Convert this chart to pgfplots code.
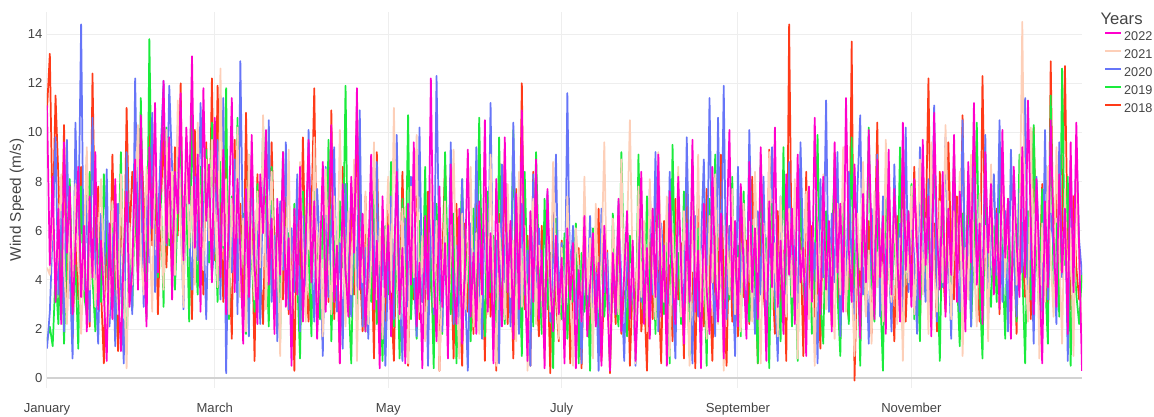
\documentclass[border=0pt]{standalone}
\usepackage{fontspec}
\setmainfont{Liberation Sans}
\usepackage{pgfplots}
\usepackage{pgfplotstable}
\pgfplotsset{compat=1.18}
\definecolor{cA}{HTML}{FF00CC}
\definecolor{cB}{HTML}{FDCFB8}
\definecolor{cC}{HTML}{6675F8}
\definecolor{cD}{HTML}{1AEB3C}
\definecolor{cE}{HTML}{FF3A18}
\definecolor{gridc}{HTML}{EEEEEE}
\definecolor{zeroc}{HTML}{D2D2D2}
\definecolor{tickc}{HTML}{444444}
% 2022
\pgfplotstableread[row sep=\\]{y\\
11.1\\ 4.6\\ 8.2\\ 3.1\\ 6.9\\ 2.2\\ 9.6\\ 5.1\\ 7.8\\ 2.6\\ 5.4\\ 8.6\\ 3.3\\ 6.2\\ 1.9\\ 7.4\\ 4.1\\ 9.2\\ 2.8\\ 5.6\\ 3.4\\ 0.7\\ 6.3\\ 2.4\\ 8.1\\ 3.7\\ 1.1\\ 5.2\\ 7.6\\ 2.9\\ 4.4\\
8.9\\ 3.6\\ 10.7\\ 5.8\\ 2.1\\ 9.4\\ 6.1\\ 11.2\\ 4.3\\ 7.9\\ 12.1\\ 5.5\\ 9.8\\ 3.2\\ 8.4\\ 6.7\\ 11.6\\ 4.8\\ 10.2\\ 7.1\\ 13.1\\ 5.3\\ 9.1\\ 2.7\\ 11.8\\ 6.4\\ 8.7\\ 3.9\\
10.6\\ 7.2\\ 4.1\\ 9.3\\ 2.6\\ 6.8\\ 11.4\\ 3.5\\ 8.1\\ 5.2\\ 1.4\\ 7.7\\ 3.3\\ 9.9\\ 4.6\\ 2.2\\ 8.3\\ 5.9\\ 10.1\\ 3.8\\ 6.5\\ 1.8\\ 7.3\\ 4.2\\ 9.2\\ 2.9\\ 5.7\\ 0.5\\ 6.9\\ 3.4\\ 8.6\\
2.3\\ 5.8\\ 9.7\\ 3.9\\ 7.2\\ 1.6\\ 4.8\\ 8.8\\ 2.7\\ 6.1\\ 10.3\\ 3.1\\ 5.4\\ 0.6\\ 7.9\\ 4.4\\ 2.5\\ 8.2\\ 5.1\\ 11.8\\ 3.6\\ 6.7\\ 1.9\\ 4.9\\ 9.1\\ 2.8\\ 5.6\\ 0.4\\ 7.4\\ 3.3\\
6.2\\ 1.7\\ 4.5\\ 8.4\\ 2.6\\ 5.3\\ 0.6\\ 7.1\\ 3.8\\ 9.6\\ 2.1\\ 4.7\\ 0.4\\ 6.6\\ 3.2\\ 12.2\\ 4.1\\ 1.5\\ 7.8\\ 2.9\\ 5.5\\ 0.8\\ 8.7\\ 3.6\\ 2.2\\ 6.9\\ 1.4\\ 4.6\\ 9.3\\ 2.5\\ 5.1\\
1.8\\ 7.2\\ 3.4\\ 10.5\\ 2.7\\ 5.9\\ 0.6\\ 8.1\\ 4.3\\ 2.1\\ 9.8\\ 3.5\\ 6.4\\ 1.6\\ 7.5\\ 2.8\\ 10.9\\ 4.2\\ 0.7\\ 6.8\\ 3.1\\ 8.9\\ 2.4\\ 5.2\\ 0.4\\ 7.7\\ 3.9\\ 1.9\\ 5.8\\ 2.6\\
4.9\\ 0.6\\ 6.1\\ 3.2\\ 5.5\\ 0.4\\ 4.4\\ 2.3\\ 6.6\\ 1.7\\ 3.8\\ 5.9\\ 2.1\\ 4.7\\ 0.5\\ 6.2\\ 3.4\\ 0.3\\ 5.1\\ 2.6\\ 7.3\\ 1.9\\ 4.2\\ 6.8\\ 2.4\\ 5.6\\ 0.7\\ 3.7\\ 8.4\\ 2.2\\ 5.3\\
1.6\\ 6.9\\ 3.3\\ 9.1\\ 2.5\\ 5.4\\ 0.5\\ 7.6\\ 3.9\\ 2.2\\ 8.2\\ 4.6\\ 1.4\\ 6.3\\ 3.1\\ 9.7\\ 2.7\\ 5.2\\ 0.4\\ 7.1\\ 3.6\\ 1.8\\ 8.6\\ 4.1\\ 2.3\\ 6.7\\ 0.8\\ 5.8\\ 10.1\\ 3.2\\ 6.4\\
2.1\\ 7.9\\ 4.4\\ 1.6\\ 8.8\\ 3.5\\ 6.1\\ 2.4\\ 9.4\\ 4.8\\ 0.7\\ 7.2\\ 3.7\\ 10.2\\ 2.9\\ 5.6\\ 1.8\\ 8.3\\ 4.2\\ 6.9\\ 2.2\\ 9.1\\ 3.9\\ 5.3\\ 0.9\\ 7.8\\ 3.1\\ 10.6\\ 4.6\\ 2.6\\
8.2\\ 3.6\\ 6.4\\ 1.9\\ 9.6\\ 4.3\\ 7.1\\ 2.7\\ 11.4\\ 5.2\\ 3.1\\ 8.7\\ 4.8\\ 1.6\\ 7.5\\ 3.9\\ 10.1\\ 5.6\\ 2.4\\ 8.9\\ 4.1\\ 6.6\\ 1.8\\ 9.3\\ 3.4\\ 7.7\\ 5.1\\ 2.3\\ 10.4\\ 4.4\\ 6.8\\
2.9\\ 8.1\\ 5.3\\ 3.2\\ 9.7\\ 4.6\\ 7.4\\ 1.7\\ 10.8\\ 5.9\\ 3.6\\ 8.4\\ 2.5\\ 6.9\\ 4.2\\ 9.9\\ 3.1\\ 7.6\\ 5.4\\ 1.9\\ 8.8\\ 4.7\\ 11.2\\ 3.8\\ 6.3\\ 2.2\\ 9.2\\ 5.1\\ 7.9\\ 3.4\\
6.7\\ 2.8\\ 10.1\\ 4.9\\ 7.3\\ 1.6\\ 8.6\\ 5.5\\ 3.3\\ 9.4\\ 4.1\\ 11.3\\ 6.2\\ 2.6\\ 8.1\\ 4.5\\ 0.6\\ 7.2\\ 3.7\\ 10.5\\ 5.8\\ 2.9\\ 8.3\\ 4.3\\ 6.9\\ 1.8\\ 9.6\\ 3.5\\ 10.4\\ 5.2\\ 0.3\\
}\dataA
% 2021
\pgfplotstableread[row sep=\\]{y\\
4.5\\ 4.2\\ 6.8\\ 3.9\\ 5.1\\ 8.3\\ 4.6\\ 2.2\\ 6.4\\ 3.5\\ 7.9\\ 5.2\\ 1.8\\ 4.7\\ 9.4\\ 3.6\\ 6.1\\ 2.9\\ 5.8\\ 8.1\\ 4.3\\ 1.4\\ 3.2\\ 7.2\\ 5.5\\ 2.6\\ 8.3\\ 4.1\\ 0.4\\ 6.3\\ 3.8\\
7.4\\ 10.3\\ 5.1\\ 3.4\\ 8.6\\ 6.2\\ 2.7\\ 9.8\\ 4.9\\ 7.1\\ 3.6\\ 10.1\\ 5.7\\ 8.4\\ 4.2\\ 11.3\\ 6.5\\ 2.9\\ 9.2\\ 5.3\\ 7.8\\ 3.8\\ 10.4\\ 6.1\\ 4.4\\ 8.9\\ 5.6\\ 9.7\\
6.8\\ 3.7\\ 12.6\\ 5.4\\ 8.1\\ 2.6\\ 7.3\\ 4.8\\ 10.2\\ 3.3\\ 6.5\\ 1.9\\ 9.1\\ 5.1\\ 3.2\\ 7.6\\ 4.5\\ 10.7\\ 2.8\\ 6.2\\ 8.4\\ 3.9\\ 5.7\\ 0.9\\ 7.9\\ 4.3\\ 9.3\\ 2.4\\ 6.6\\ 3.6\\ 8.8\\
5.2\\ 2.3\\ 7.1\\ 4.4\\ 9.8\\ 3.1\\ 6.3\\ 1.7\\ 8.5\\ 4.9\\ 2.6\\ 7.4\\ 3.8\\ 10.1\\ 5.5\\ 2.1\\ 6.8\\ 3.4\\ 8.9\\ 0.7\\ 5.7\\ 3.9\\ 7.6\\ 2.2\\ 4.8\\ 9.6\\ 3.2\\ 6.1\\ 1.6\\ 5.3\\
8.2\\ 3.5\\ 11.0\\ 4.7\\ 2.4\\ 6.9\\ 3.3\\ 0.6\\ 7.8\\ 4.1\\ 9.9\\ 2.7\\ 5.8\\ 1.5\\ 4.3\\ 8.1\\ 2.9\\ 6.4\\ 0.3\\ 3.8\\ 7.2\\ 2.3\\ 5.1\\ 9.3\\ 3.6\\ 0.8\\ 6.7\\ 2.8\\ 4.9\\ 8.6\\ 2.1\\
5.9\\ 1.8\\ 4.4\\ 7.7\\ 2.6\\ 9.1\\ 3.7\\ 0.5\\ 6.3\\ 4.2\\ 2.4\\ 7.9\\ 3.3\\ 5.6\\ 1.5\\ 8.4\\ 2.9\\ 6.2\\ 0.3\\ 4.6\\ 7.3\\ 2.2\\ 5.4\\ 3.5\\ 0.7\\ 6.9\\ 2.7\\ 8.8\\ 4.1\\ 1.6\\
5.3\\ 2.5\\ 7.4\\ 3.8\\ 0.5\\ 6.1\\ 4.4\\ 2.3\\ 8.2\\ 3.4\\ 5.7\\ 0.8\\ 7.1\\ 2.9\\ 4.8\\ 9.6\\ 3.1\\ 1.7\\ 6.5\\ 4.2\\ 2.6\\ 8.9\\ 3.6\\ 5.9\\ 10.5\\ 4.3\\ 0.6\\ 7.8\\ 3.3\\ 6.4\\ 1.9\\
8.1\\ 4.6\\ 2.4\\ 9.2\\ 5.3\\ 3.1\\ 7.4\\ 0.9\\ 5.9\\ 3.7\\ 8.6\\ 2.5\\ 6.8\\ 4.1\\ 0.5\\ 7.2\\ 3.5\\ 9.1\\ 2.7\\ 5.4\\ 1.6\\ 6.6\\ 3.9\\ 8.3\\ 2.2\\ 5.1\\ 0.3\\ 6.2\\ 3.4\\ 7.7\\ 2.6\\
4.9\\ 1.9\\ 7.1\\ 3.6\\ 5.8\\ 2.3\\ 8.4\\ 4.5\\ 0.6\\ 6.3\\ 3.2\\ 9.2\\ 2.8\\ 5.5\\ 1.7\\ 7.4\\ 4.1\\ 2.5\\ 6.9\\ 3.3\\ 8.1\\ 0.8\\ 5.2\\ 3.9\\ 7.6\\ 2.4\\ 4.7\\ 0.5\\ 6.4\\ 3.5\\
8.3\\ 2.8\\ 5.9\\ 4.2\\ 1.6\\ 7.1\\ 3.4\\ 9.4\\ 2.7\\ 5.6\\ 3.8\\ 0.9\\ 6.7\\ 4.4\\ 8.8\\ 2.5\\ 5.2\\ 1.4\\ 7.6\\ 3.7\\ 6.1\\ 2.3\\ 9.7\\ 4.6\\ 3.1\\ 7.3\\ 2.2\\ 5.7\\ 0.7\\ 6.4\\ 3.9\\
7.8\\ 2.6\\ 5.1\\ 8.9\\ 3.4\\ 6.5\\ 1.8\\ 9.6\\ 4.3\\ 2.7\\ 7.2\\ 3.9\\ 10.3\\ 5.6\\ 2.4\\ 6.8\\ 4.1\\ 8.4\\ 0.9\\ 5.3\\ 3.2\\ 9.1\\ 4.7\\ 2.1\\ 7.5\\ 3.6\\ 6.2\\ 1.5\\ 8.7\\ 4.4\\
5.7\\ 2.9\\ 9.3\\ 4.1\\ 6.8\\ 1.7\\ 7.9\\ 3.8\\ 5.4\\ 14.5\\ 4.6\\ 2.3\\ 10.2\\ 3.5\\ 7.1\\ 0.8\\ 6.3\\ 3.1\\ 8.6\\ 4.9\\ 2.5\\ 9.4\\ 5.2\\ 1.4\\ 7.7\\ 3.6\\ 6.1\\ 0.9\\ 8.3\\ 4.4\\ 1.9\\
}\dataB
% 2020
\pgfplotstableread[row sep=\\]{y\\
1.2\\ 2.7\\ 6.1\\ 9.8\\ 3.4\\ 7.2\\ 1.9\\ 9.7\\ 4.3\\ 0.8\\ 10.4\\ 5.8\\ 14.4\\ 3.6\\ 7.4\\ 2.3\\ 10.6\\ 4.1\\ 1.4\\ 6.7\\ 3.2\\ 8.5\\ 2.1\\ 5.9\\ 1.3\\ 7.1\\ 3.8\\ 0.6\\ 9.2\\ 4.5\\ 2.6\\
12.2\\ 5.3\\ 8.4\\ 2.9\\ 7.6\\ 4.7\\ 10.8\\ 3.5\\ 6.2\\ 9.3\\ 12.1\\ 5.4\\ 11.9\\ 8.6\\ 4.2\\ 10.3\\ 6.7\\ 2.8\\ 9.1\\ 5.9\\ 3.6\\ 8.2\\ 4.8\\ 11.2\\ 6.3\\ 2.4\\ 7.8\\ 4.1\\
5.6\\ 9.7\\ 3.2\\ 11.4\\ 0.2\\ 6.8\\ 4.3\\ 8.9\\ 2.6\\ 12.9\\ 5.1\\ 7.3\\ 1.7\\ 9.2\\ 3.9\\ 6.4\\ 2.2\\ 8.1\\ 4.6\\ 10.5\\ 3.1\\ 5.8\\ 1.5\\ 7.2\\ 4.4\\ 9.6\\ 2.8\\ 6.1\\ 3.5\\ 8.3\\ 1.9\\
6.6\\ 3.7\\ 10.1\\ 4.9\\ 2.3\\ 7.7\\ 5.2\\ 0.9\\ 8.6\\ 3.3\\ 6.2\\ 9.4\\ 2.7\\ 5.5\\ 1.2\\ 7.9\\ 4.1\\ 2.5\\ 6.8\\ 3.6\\ 10.9\\ 2.1\\ 5.3\\ 1.6\\ 7.1\\ 3.9\\ 8.8\\ 2.2\\ 5.7\\ 0.5\\
4.6\\ 7.4\\ 2.4\\ 9.9\\ 3.8\\ 0.7\\ 6.5\\ 2.9\\ 8.2\\ 4.2\\ 1.7\\ 10.2\\ 3.1\\ 5.9\\ 0.5\\ 7.3\\ 2.6\\ 12.3\\ 4.7\\ 1.9\\ 6.1\\ 3.3\\ 9.6\\ 2.2\\ 5.4\\ 1.4\\ 8.1\\ 3.7\\ 0.3\\ 6.3\\ 2.8\\
9.4\\ 4.1\\ 1.6\\ 7.2\\ 3.2\\ 11.2\\ 2.5\\ 5.6\\ 0.6\\ 8.7\\ 3.9\\ 6.4\\ 2.1\\ 10.4\\ 4.5\\ 1.8\\ 7.1\\ 3.4\\ 5.2\\ 0.5\\ 8.3\\ 2.7\\ 6.1\\ 3.6\\ 1.5\\ 7.6\\ 2.3\\ 4.9\\ 9.1\\ 2.9\\
5.5\\ 1.6\\ 11.6\\ 3.7\\ 6.2\\ 2.4\\ 4.6\\ 0.6\\ 5.8\\ 3.2\\ 6.6\\ 2.1\\ 4.3\\ 0.3\\ 6.9\\ 3.5\\ 5.1\\ 1.8\\ 4.7\\ 2.6\\ 7.2\\ 3.9\\ 0.7\\ 5.6\\ 2.8\\ 4.1\\ 0.5\\ 6.4\\ 3.1\\ 5.2\\ 2.3\\
7.7\\ 3.4\\ 9.2\\ 1.9\\ 6.3\\ 4.5\\ 2.2\\ 8.4\\ 3.6\\ 0.8\\ 7.1\\ 4.8\\ 2.7\\ 9.8\\ 3.9\\ 0.6\\ 6.6\\ 2.5\\ 5.4\\ 8.9\\ 3.2\\ 11.4\\ 4.3\\ 1.7\\ 10.6\\ 3.8\\ 11.9\\ 2.4\\ 6.2\\ 4.4\\ 0.9\\
8.6\\ 3.5\\ 5.9\\ 2.3\\ 10.1\\ 4.7\\ 1.8\\ 6.8\\ 3.4\\ 8.2\\ 2.1\\ 5.3\\ 9.4\\ 3.7\\ 0.7\\ 7.4\\ 4.2\\ 2.6\\ 8.8\\ 3.3\\ 6.1\\ 1.9\\ 9.6\\ 4.9\\ 2.8\\ 7.3\\ 3.6\\ 5.5\\ 0.6\\ 8.1\\
4.1\\ 11.3\\ 2.7\\ 6.7\\ 3.9\\ 9.2\\ 1.7\\ 5.8\\ 3.1\\ 8.4\\ 4.6\\ 2.2\\ 7.6\\ 10.7\\ 3.4\\ 5.2\\ 1.4\\ 6.9\\ 4.3\\ 9.1\\ 2.5\\ 7.4\\ 3.8\\ 5.6\\ 1.9\\ 8.7\\ 4.2\\ 6.3\\ 2.6\\ 10.2\\ 3.5\\
7.2\\ 4.8\\ 1.8\\ 9.4\\ 5.3\\ 3.1\\ 8.1\\ 4.4\\ 11.1\\ 2.3\\ 6.6\\ 3.7\\ 9.8\\ 5.1\\ 1.6\\ 7.9\\ 4.5\\ 2.7\\ 10.5\\ 3.6\\ 6.2\\ 2.1\\ 8.6\\ 4.9\\ 7.4\\ 3.3\\ 9.9\\ 2.4\\ 5.7\\ 8.3\\
4.2\\ 10.5\\ 3.1\\ 6.8\\ 1.9\\ 9.3\\ 5.2\\ 2.5\\ 7.7\\ 4.3\\ 11.4\\ 3.6\\ 6.1\\ 1.4\\ 8.2\\ 4.9\\ 2.7\\ 10.1\\ 3.2\\ 6.7\\ 5.3\\ 2.2\\ 9.6\\ 4.1\\ 7.3\\ 0.7\\ 8.6\\ 3.8\\ 9.4\\ 5.6\\ 4.2\\
}\dataC
% 2019
\pgfplotstableread[row sep=\\]{y\\
1.5\\ 2.1\\ 1.3\\ 4.2\\ 2.2\\ 6.3\\ 1.4\\ 5.4\\ 8.1\\ 2.9\\ 4.6\\ 1.2\\ 7.8\\ 3.4\\ 2.6\\ 8.4\\ 4.1\\ 1.9\\ 6.2\\ 3.1\\ 8.3\\ 5.6\\ 2.4\\ 7.1\\ 1.7\\ 4.7\\ 9.2\\ 3.2\\ 1.3\\ 5.8\\ 2.8\\
7.4\\ 3.9\\ 11.4\\ 5.2\\ 2.5\\ 13.8\\ 6.3\\ 9.6\\ 4.1\\ 7.7\\ 2.9\\ 10.2\\ 5.4\\ 8.3\\ 3.6\\ 6.9\\ 9.9\\ 4.4\\ 7.2\\ 2.3\\ 11.1\\ 5.8\\ 3.4\\ 8.6\\ 6.1\\ 9.3\\ 4.7\\ 10.4\\
6.2\\ 3.1\\ 8.8\\ 5.3\\ 11.8\\ 2.4\\ 7.4\\ 4.6\\ 10.6\\ 3.3\\ 6.7\\ 1.8\\ 9.1\\ 4.9\\ 2.7\\ 7.9\\ 3.8\\ 10.3\\ 5.5\\ 2.1\\ 8.6\\ 4.2\\ 6.5\\ 1.6\\ 9.2\\ 3.5\\ 5.9\\ 2.3\\ 7.1\\ 4.1\\ 0.8\\
7.6\\ 3.9\\ 5.2\\ 1.7\\ 8.9\\ 4.3\\ 2.4\\ 6.6\\ 3.2\\ 9.7\\ 1.5\\ 5.8\\ 2.9\\ 7.2\\ 4.5\\ 11.9\\ 3.4\\ 0.6\\ 6.3\\ 2.6\\ 8.4\\ 4.1\\ 1.9\\ 5.7\\ 3.1\\ 7.8\\ 2.2\\ 4.6\\ 0.7\\ 6.2\\
3.4\\ 8.8\\ 2.1\\ 5.6\\ 0.8\\ 7.3\\ 3.7\\ 10.7\\ 2.4\\ 4.9\\ 1.6\\ 6.4\\ 3.1\\ 8.6\\ 2.3\\ 5.2\\ 0.4\\ 7.1\\ 3.6\\ 1.8\\ 9.2\\ 4.3\\ 2.6\\ 6.7\\ 0.6\\ 4.8\\ 8.1\\ 2.9\\ 5.5\\ 1.5\\ 6.9\\
3.2\\ 10.6\\ 4.4\\ 1.7\\ 7.6\\ 3.5\\ 5.8\\ 0.7\\ 9.8\\ 4.1\\ 2.2\\ 6.9\\ 3.3\\ 10.1\\ 2.6\\ 5.3\\ 0.9\\ 8.4\\ 3.9\\ 6.2\\ 2.1\\ 9.2\\ 4.6\\ 1.8\\ 7.3\\ 2.8\\ 5.1\\ 0.4\\ 6.5\\ 3.4\\
2.4\\ 5.9\\ 1.6\\ 4.7\\ 3.1\\ 6.3\\ 0.6\\ 5.1\\ 2.7\\ 4.2\\ 0.3\\ 6.1\\ 3.4\\ 1.8\\ 5.6\\ 2.5\\ 4.4\\ 0.5\\ 6.7\\ 3.2\\ 2.1\\ 9.2\\ 4.5\\ 1.7\\ 5.8\\ 3.6\\ 0.8\\ 9.1\\ 4.2\\ 2.3\\ 7.4\\
3.1\\ 5.7\\ 1.8\\ 8.3\\ 4.2\\ 2.6\\ 6.4\\ 0.6\\ 9.5\\ 3.7\\ 5.1\\ 2.2\\ 7.6\\ 4.4\\ 0.9\\ 8.8\\ 3.3\\ 6.1\\ 2.4\\ 5.2\\ 0.5\\ 7.3\\ 3.9\\ 9.1\\ 2.7\\ 4.8\\ 1.6\\ 6.7\\ 3.2\\ 8.2\\ 2.1\\
5.4\\ 1.7\\ 7.6\\ 3.5\\ 2.3\\ 6.2\\ 4.1\\ 0.6\\ 8.9\\ 3.6\\ 5.7\\ 0.4\\ 7.1\\ 2.8\\ 4.6\\ 1.5\\ 9.4\\ 3.2\\ 6.3\\ 2.1\\ 5.1\\ 0.7\\ 7.8\\ 3.9\\ 2.5\\ 6.6\\ 1.8\\ 4.4\\ 9.9\\ 3.1\\
1.4\\ 6.8\\ 2.7\\ 5.3\\ 8.6\\ 3.4\\ 0.9\\ 7.2\\ 4.5\\ 2.2\\ 9.8\\ 3.7\\ 5.9\\ 0.5\\ 7.4\\ 2.9\\ 10.2\\ 4.1\\ 2.3\\ 6.5\\ 3.6\\ 0.3\\ 8.3\\ 4.7\\ 2.6\\ 6.1\\ 3.2\\ 9.4\\ 1.9\\ 5.5\\ 3.8\\
7.9\\ 2.4\\ 5.1\\ 1.5\\ 8.7\\ 3.9\\ 6.4\\ 2.2\\ 10.1\\ 4.6\\ 0.7\\ 7.3\\ 3.3\\ 5.8\\ 2.6\\ 9.2\\ 4.2\\ 1.3\\ 6.7\\ 3.5\\ 8.1\\ 2.1\\ 5.4\\ 10.4\\ 3.7\\ 0.8\\ 7.6\\ 4.3\\ 2.9\\ 6.2\\
3.1\\ 8.4\\ 4.8\\ 1.6\\ 7.2\\ 3.6\\ 5.9\\ 2.3\\ 9.1\\ 4.4\\ 0.6\\ 6.8\\ 3.2\\ 10.3\\ 5.1\\ 2.6\\ 7.7\\ 4.1\\ 1.4\\ 11.5\\ 3.8\\ 6.3\\ 2.5\\ 12.6\\ 4.6\\ 8.2\\ 0.5\\ 5.6\\ 3.4\\ 2.2\\ 4.3\\
}\dataD
% 2018
\pgfplotstableread[row sep=\\]{y\\
10.9\\ 13.2\\ 6.1\\ 11.5\\ 8.2\\ 4.1\\ 10.3\\ 2.3\\ 7.9\\ 1.6\\ 5.5\\ 3.2\\ 8.6\\ 4.4\\ 9.0\\ 2.1\\ 12.4\\ 5.1\\ 7.8\\ 3.6\\ 0.6\\ 6.2\\ 2.8\\ 9.1\\ 4.7\\ 1.1\\ 7.4\\ 3.3\\ 11.0\\ 5.6\\ 8.4\\
6.9\\ 4.2\\ 9.8\\ 7.3\\ 3.1\\ 11.2\\ 5.4\\ 8.7\\ 2.6\\ 6.8\\ 10.2\\ 4.5\\ 7.6\\ 3.9\\ 9.4\\ 5.8\\ 12.0\\ 3.7\\ 8.1\\ 6.2\\ 2.4\\ 10.1\\ 4.9\\ 7.2\\ 3.4\\ 9.6\\ 5.1\\ 12.2\\
4.8\\ 11.9\\ 6.6\\ 3.1\\ 8.9\\ 5.2\\ 1.6\\ 9.7\\ 4.2\\ 7.1\\ 2.5\\ 10.8\\ 3.6\\ 6.4\\ 0.7\\ 8.3\\ 4.5\\ 2.2\\ 7.4\\ 3.8\\ 9.6\\ 5.3\\ 1.9\\ 6.7\\ 3.2\\ 8.2\\ 2.6\\ 5.1\\ 0.3\\ 7.3\\ 3.9\\
9.8\\ 4.1\\ 2.3\\ 6.6\\ 11.8\\ 3.7\\ 5.9\\ 1.5\\ 7.8\\ 3.1\\ 10.9\\ 2.4\\ 5.4\\ 0.6\\ 8.6\\ 4.3\\ 2.7\\ 6.9\\ 3.4\\ 11.0\\ 4.8\\ 1.9\\ 7.4\\ 2.6\\ 5.7\\ 0.8\\ 9.2\\ 3.5\\ 6.1\\ 2.1\\
7.2\\ 3.3\\ 0.7\\ 5.9\\ 2.6\\ 8.4\\ 4.1\\ 0.5\\ 6.8\\ 3.2\\ 9.3\\ 2.4\\ 5.5\\ 1.6\\ 7.6\\ 3.8\\ 2.1\\ 6.2\\ 0.3\\ 4.7\\ 8.8\\ 2.9\\ 5.1\\ 0.8\\ 7.1\\ 3.4\\ 0.5\\ 6.3\\ 2.7\\ 4.9\\ 1.8\\
8.1\\ 3.6\\ 5.4\\ 0.7\\ 7.3\\ 2.5\\ 4.6\\ 0.3\\ 6.7\\ 3.1\\ 9.2\\ 2.2\\ 5.1\\ 0.8\\ 7.7\\ 3.5\\ 12.0\\ 2.8\\ 5.8\\ 0.5\\ 8.4\\ 3.9\\ 1.7\\ 6.2\\ 2.4\\ 4.8\\ 0.2\\ 7.1\\ 3.2\\ 1.5\\
5.6\\ 2.3\\ 6.4\\ 0.6\\ 4.2\\ 2.8\\ 5.3\\ 0.4\\ 6.1\\ 3.3\\ 1.7\\ 4.8\\ 2.5\\ 6.9\\ 0.7\\ 3.9\\ 5.2\\ 0.2\\ 4.5\\ 2.2\\ 6.3\\ 1.8\\ 3.6\\ 5.7\\ 0.5\\ 4.1\\ 2.7\\ 7.2\\ 1.9\\ 3.5\\ 0.3\\
5.8\\ 2.4\\ 8.1\\ 3.7\\ 0.6\\ 6.4\\ 2.9\\ 4.6\\ 1.5\\ 7.3\\ 3.2\\ 5.5\\ 0.8\\ 8.6\\ 2.5\\ 4.3\\ 0.4\\ 6.9\\ 3.4\\ 2.1\\ 7.7\\ 4.2\\ 0.7\\ 5.9\\ 2.8\\ 9.1\\ 3.6\\ 0.5\\ 6.2\\ 2.3\\ 4.8\\
1.7\\ 7.4\\ 3.3\\ 5.6\\ 2.2\\ 8.2\\ 4.1\\ 0.6\\ 6.3\\ 3.5\\ 2.1\\ 9.3\\ 4.4\\ 1.8\\ 6.8\\ 2.7\\ 5.2\\ 0.7\\ 14.4\\ 3.9\\ 7.1\\ 2.4\\ 5.7\\ 0.9\\ 8.4\\ 3.2\\ 6.2\\ 2.5\\ 4.3\\ 1.2\\
7.6\\ 3.4\\ 5.8\\ 2.1\\ 9.2\\ 4.5\\ 1.6\\ 6.7\\ 3.3\\ 2.4\\ 13.7\\ -0.1\\ 5.2\\ 3.7\\ 8.1\\ 2.6\\ 6.4\\ 1.8\\ 4.9\\ 10.4\\ 3.1\\ 5.9\\ 2.2\\ 7.8\\ 4.3\\ 1.5\\ 6.6\\ 3.6\\ 9.4\\ 2.3\\ 5.3\\
3.8\\ 8.6\\ 4.7\\ 2.2\\ 7.1\\ 5.6\\ 12.2\\ 3.9\\ 6.3\\ 1.9\\ 8.4\\ 4.6\\ 2.7\\ 9.6\\ 5.1\\ 3.2\\ 7.4\\ 4.4\\ 10.7\\ 2.8\\ 6.1\\ 3.6\\ 8.9\\ 4.8\\ 2.3\\ 12.3\\ 5.4\\ 3.1\\ 7.7\\ 4.2\\
6.9\\ 2.6\\ 9.1\\ 4.4\\ 7.3\\ 3.2\\ 5.8\\ 1.8\\ 8.2\\ 4.9\\ 3.3\\ 6.7\\ 2.4\\ 10.2\\ 5.1\\ 3.7\\ 7.9\\ 4.3\\ 2.1\\ 12.9\\ 4.6\\ 8.1\\ 3.4\\ 6.2\\ 12.7\\ 5.3\\ 2.8\\ 7.4\\ 4.5\\ 3.2\\ 4.2\\
}\dataE
\begin{document}
\begin{tikzpicture}
\useasboundingbox (-35.25pt,-21.75pt) rectangle (830.25pt,291pt);
\begin{axis}[
  at={(0pt,0pt)}, anchor=south west,
  scale only axis, width=776.25pt, height=282pt,
  xmin=0, xmax=364, ymin=-0.4, ymax=14.9,
  xtick={0,59,120,181,243,304},
  xticklabels={January,March,May,July,September,November},
  ytick={0,2,4,6,8,10,12,14},
  grid=major,
  major grid style={draw=gridc, line width=0.75pt},
  axis line style={draw=none},
  major tick length=0pt,
  tick label style={font=\fontsize{9.8}{11}\selectfont, text=tickc},
  /pgf/number format/assume math mode=true,
  xticklabel style={yshift=-8pt},
  ylabel={Wind Speed (m/s)},
  every axis y label/.style={at={(axis description cs:-0.029,0.5)}, rotate=90, anchor=center, font=\fontsize{11.5}{13}\selectfont, text=tickc},
  extra y ticks={0}, extra y tick labels={},
  extra y tick style={major grid style={draw=zeroc, line width=1.5pt}},
  reverse legend,
  legend cell align=left,
  legend style={at={(1.0213,0.950)}, anchor=north west, draw=none, fill=none,
    inner sep=0pt, row sep=4.5pt, column sep=1.5pt,
    font=\fontsize{9.5}{11}\selectfont, text=tickc,
    nodes={inner sep=0pt, text height=7pt, text depth=2pt}},
  legend image code/.code={\draw[#1, line width=1.4pt] (0pt,3pt) -- (12pt,3pt);},
  every axis plot/.append style={line width=1.3pt, line join=round},
]
\addplot[cE, no markers] table[x expr=\coordindex, y=y] {\dataE}; \addlegendentry{2018}
\addplot[cD, no markers] table[x expr=\coordindex, y=y] {\dataD}; \addlegendentry{2019}
\addplot[cC, no markers] table[x expr=\coordindex, y=y] {\dataC}; \addlegendentry{2020}
\addplot[cB, no markers] table[x expr=\coordindex, y=y] {\dataB}; \addlegendentry{2021}
\addplot[cA, no markers] table[x expr=\coordindex, y=y] {\dataA}; \addlegendentry{2022}
\end{axis}
\node[anchor=west, inner sep=0pt, font=\fontsize{12.5}{14}\selectfont, text=tickc] at (790pt,277pt) {Years};
\end{tikzpicture}
\end{document}
